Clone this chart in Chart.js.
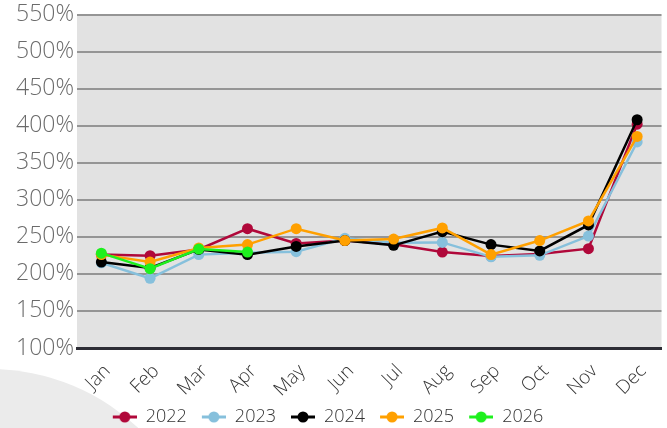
<!DOCTYPE html>
<html><head><meta charset="utf-8">
<style>html,body{margin:0;padding:0;background:#fff;}#wrap{width:667px;height:428px;position:relative;}</style>
<script src="https://cdn.jsdelivr.net/npm/chart.js@4/dist/chart.umd.min.js"></script>
</head><body><div id="wrap"><canvas id="c" width="667" height="428"></canvas></div>
<script>
const months = ['Jan','Feb','Mar','Apr','May','Jun','Jul','Aug','Sep','Oct','Nov','Dec'];
const yMin = 100, yMax = 550, yStep = 50;
const years = ['2022','2023','2024','2025','2026'];
const s2022 = [226, 224.5, 233, 261, 241, 245, 240, 229.5, 224, 227, 234, 402];
const s2023 = [215, 194, 226, 228.5, 230, 248, 242, 242.5, 223, 225, 251, 378];
const s2024 = [216, 208, 233, 226, 237, 245, 238.5, 257, 239.5, 231, 266, 408];
const s2025 = [226, 216, 235, 239.5, 261, 245, 247, 262, 226, 245, 271.5, 385.5];
const s2026 = [228, 207, 233.5, 229.5, null, null, null, null, null, null, null, null];
const colors = ['#b0083a', '#86c0dc', '#000000', '#ffa000', '#1ef01e'];
const series = [s2022, s2023, s2024, s2025, s2026];

const FONT = "'Open Sans', 'Noto Sans', sans-serif";

function marker(color){
  const c = document.createElement('canvas');
  c.width = 37; c.height = 14;
  const g = c.getContext('2d');
  g.strokeStyle = color; g.lineWidth = 3;
  g.beginPath(); g.moveTo(13,7); g.lineTo(37,7); g.stroke();
  g.fillStyle = color;
  g.beginPath(); g.arc(25,7,5.5,0,Math.PI*2); g.fill();
  return c;
}
const markers = colors.map(marker);

const bgPlugin = {
  id: 'bg',
  afterLayout(chart){
    if (chart.legend) { chart.legend.left -= 11; chart.legend.right -= 11; }
  },
  beforeDraw(chart){
    const {ctx, chartArea:a} = chart;
    ctx.save();
    ctx.fillStyle = '#ffffff';
    ctx.fillRect(0,0,chart.width,chart.height);
    ctx.fillStyle = '#ebebeb';
    ctx.beginPath(); ctx.arc(-10,585,216,0,Math.PI*2); ctx.fill();
    ctx.fillStyle = '#e2e2e2';
    ctx.fillRect(a.left, a.top, a.right-a.left, a.bottom-a.top);
    ctx.restore();
  }
};

new Chart(document.getElementById('c'), {
  type: 'line',
  data: {
    labels: months,
    datasets: years.map((y,i)=>({
      label: y,
      data: series[i],
      borderColor: colors[i],
      backgroundColor: colors[i],
      borderWidth: 2.5,
      pointRadius: 5.5,
      pointBorderWidth: 0,
      pointHoverRadius: 5.5,
      tension: 0,
      order: years.length - 1 - i
    }))
  },
  options: {
    responsive: false,
    devicePixelRatio: 1,
    animation: false,
    layout: { padding: { top: 14, right: 2, left: 0, bottom: -8 } },
    plugins: {
      tooltip: { enabled: false },
      legend: {
        position: 'bottom',
        labels: {
          usePointStyle: true,
          pointStyleWidth: 37,
          padding: 2,
          color: '#333',
          font: { size: 18, family: FONT, weight: '300' },
          sort: (a,b) => a.datasetIndex - b.datasetIndex,
          generateLabels(chart){
            const items = Chart.defaults.plugins.legend.labels.generateLabels(chart);
            items.forEach(it => { it.pointStyle = markers[it.datasetIndex]; });
            return items;
          }
        }
      }
    },
    scales: {
      x: {
        offset: true,
        grid: { display: false },
        border: { display: true, color: '#2d2d35', width: 3 },
        ticks: { color: '#333', font: { size: 19, family: FONT, weight: '300' }, maxRotation: 45, minRotation: 45, padding: 4, labelOffset: 6, autoSkip: false },
        afterFit(s){ s.height = 58; }
      },
      y: {
        min: yMin, max: yMax,
        ticks: { stepSize: yStep, callback: v => v + '%', color: '#6b6b6b', font: { size: 23, family: FONT, weight: '300', lineHeight: 1 }, padding: 3 },
        grid: { color: c => (c.tick && c.tick.value === yMin) ? 'rgba(0,0,0,0)' : '#959595', lineWidth: 2, drawTicks: false },
        border: { display: false },
        afterFit(s){ s.width = 77; }
      }
    }
  },
  plugins: [bgPlugin]
});
</script>
</body></html>
